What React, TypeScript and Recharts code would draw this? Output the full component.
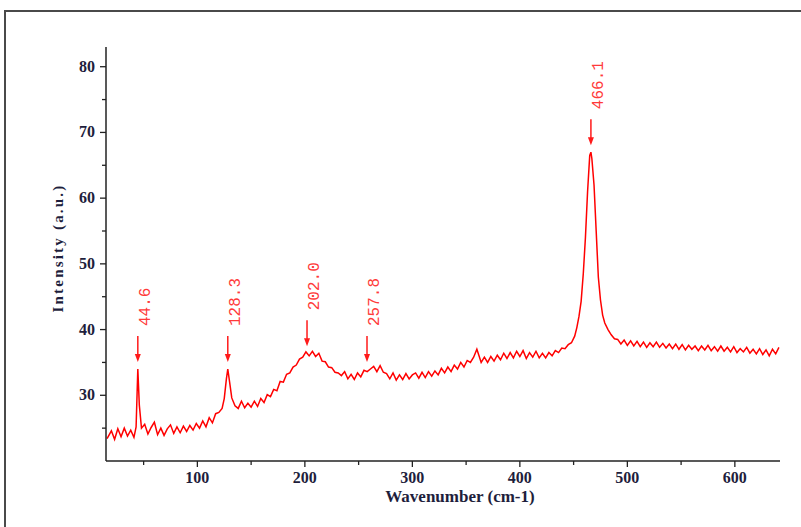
import { LineChart, Line, XAxis, YAxis, ReferenceDot } from "recharts";

const wavenumbers = [
  16, 20, 23, 26, 29, 32, 35, 38, 41, 43, 44.6, 46, 48, 51, 54, 57, 60, 63, 66, 69,
  72, 75, 78, 81, 84, 87, 90, 93, 96, 99, 102, 105, 108, 111, 114, 117, 120, 123, 125, 127,
  128.3, 130, 132, 135, 138, 141, 144, 147, 150, 153, 156, 159, 162, 165, 168, 171, 174, 177, 180, 183,
  186, 189, 192, 195, 198, 201, 204, 207, 210, 213, 216, 219, 222, 225, 228, 231, 234, 237, 240, 243,
  246, 249, 252, 255, 258, 261, 264, 267, 270, 273, 276, 279, 282, 285, 288, 291, 294, 297, 300, 303,
  306, 309, 312, 315, 318, 321, 324, 327, 330, 333, 336, 339, 342, 345, 348, 351, 354, 357, 360, 362,
  364, 367, 370, 373, 376, 379, 382, 385, 388, 391, 394, 397, 400, 403, 406, 409, 412, 415, 418, 421,
  424, 427, 430, 433, 436, 439, 442, 445, 448, 451, 453, 455, 457, 459, 461, 463, 465, 466.1, 467, 469,
  471, 473, 475, 477, 479, 482, 485, 488, 491, 494, 497, 500, 503, 506, 509, 512, 515, 518, 521, 524,
  527, 530, 533, 536, 539, 542, 545, 548, 551, 554, 557, 560, 563, 566, 569, 572, 575, 578, 581, 584,
  587, 590, 593, 596, 599, 602, 605, 608, 611, 614, 617, 620, 623, 626, 629, 632, 635, 638, 641,
];

const intensities = [
  23.4, 24.6, 23.3, 24.9, 23.7, 25.0, 23.8, 24.7, 23.6, 25.2, 34.0, 28.5, 25.0, 25.6, 24.1, 25.1, 25.9, 24.0, 25.0, 23.9,
  24.9, 25.5, 24.2, 25.2, 24.3, 25.3, 24.5, 25.4, 24.7, 25.7, 25.0, 26.1, 25.2, 26.6, 25.8, 27.2, 27.4, 28.0, 29.5, 32.5,
  34.0, 32.0, 29.6, 28.4, 28.0, 29.1, 28.1, 28.8, 28.2, 29.1, 28.3, 29.5, 28.9, 30.1, 29.8, 30.9, 30.7, 32.1, 32.0, 33.2,
  33.4, 34.3, 34.6, 35.5, 35.8, 36.6, 36.0, 36.7, 35.9, 36.4, 35.2, 35.1, 34.3, 34.2, 33.5, 33.4, 33.0, 33.6, 32.5, 33.2,
  32.4, 33.4, 32.8, 33.8, 33.6, 34.0, 34.4, 33.6, 34.5, 33.5, 33.3, 32.5, 33.4, 32.3, 33.1, 32.4, 33.3, 32.5, 33.1, 33.4,
  32.6, 33.5, 32.7, 33.6, 32.9, 33.7, 33.1, 34.1, 33.4, 34.3, 33.6, 34.6, 34.0, 35.0, 34.3, 35.3, 35.0, 35.8, 37.0, 36.0,
  35.0, 35.8, 35.0, 35.9, 35.2, 36.1, 35.4, 36.4, 35.6, 36.5, 35.7, 36.7, 35.9, 36.8, 35.6, 36.5, 35.8, 36.7, 35.7, 36.4,
  35.7, 36.5, 36.0, 36.8, 36.5, 37.2, 37.1, 37.7, 38.0, 39.0, 40.3, 42.0, 44.3, 48.5, 54.0, 61.0, 66.5, 67.0, 66.0, 62.0,
  55.0, 48.0, 44.5, 42.2, 41.0, 40.0, 39.2, 38.6, 38.5, 37.8, 38.4, 37.6, 38.3, 37.5, 38.2, 37.4, 38.1, 37.3, 38.0, 37.4,
  38.1, 37.3, 37.9, 37.2, 37.8, 37.1, 37.8, 37.0, 37.7, 36.9, 37.6, 37.0, 37.5, 36.8, 37.5, 36.9, 37.6, 36.8, 37.4, 36.7,
  37.5, 36.7, 37.3, 36.6, 37.4, 36.5, 37.1, 36.6, 37.3, 36.4, 37.0, 36.3, 37.1, 36.2, 36.9, 36.0, 37.0, 36.3, 37.3,
];

const peakPositions = [44.6, 128.3, 202.0, 257.8, 466.1];
const peakHeights = [34.0, 34.0, 36.4, 34.0, 67.0];
const peakLabels = ["44.6", "128.3", "202.0", "257.8", "466.1"];

const xTicks = [50, 100, 150, 200, 250, 300, 350, 400, 450, 500, 550, 600];
const yTicks = [25, 30, 35, 40, 45, 50, 55, 60, 65, 70, 75, 80];

const data = wavenumbers.map((x, i) => ({ x, y: intensities[i] }));

const axisColor = "#222";
const tickFont = { fontFamily: "'Liberation Serif', serif", fontWeight: 700, fontSize: 16, fill: "#1e1e3c" };

const XTick = ({ x, y, payload }: any) => {
  const major = payload.value % 100 === 0;
  return (
    <g>
      <line x1={x} x2={x} y1={y} y2={y + (major ? 6 : 4)} stroke={axisColor} strokeWidth={1.3} />
      {major && (
        <text x={x} y={y + 22} textAnchor="middle" {...tickFont}>
          {payload.value}
        </text>
      )}
    </g>
  );
};

const YTick = ({ x, y, payload }: any) => {
  const major = payload.value % 10 === 0;
  return (
    <g>
      <line x1={x - (major ? 6 : 4)} x2={x} y1={y} y2={y} stroke={axisColor} strokeWidth={1.3} />
      {major && (
        <text x={x - 11} y={y + 5} textAnchor="end" {...tickFont}>
          {payload.value}
        </text>
      )}
    </g>
  );
};

const PeakMark = ({ cx, cy, label }: any) => {
  const tip = cy - 7;
  const top = tip - 26;
  return (
    <g>
      <line x1={cx} x2={cx} y1={top} y2={tip - 3} stroke="#ff1a1a" strokeWidth={1.5} />
      <path d={`M${cx - 3},${tip - 8} L${cx},${tip} L${cx + 3},${tip - 8} Z`} fill="#ff1a1a" />
      <text
        x={cx + 12}
        y={top - 10}
        transform={`rotate(-90 ${cx + 12} ${top - 10})`}
        fontFamily="'Liberation Mono', monospace"
        fontSize={16}
        fill="#ff3a3a"
      >
        {label}
      </text>
    </g>
  );
};

export default function App() {
  return (
    <div style={{ position: "absolute", left: 0, top: 0, width: 801, height: 527, overflow: "hidden", background: "#fff" }}>
      <div
        style={{
          position: "absolute",
          left: 4,
          top: 10,
          width: 900,
          height: 600,
          borderTop: "2px solid #4a4a4a",
          borderLeft: "2px solid #4a4a4a",
        }}
      />
      <div style={{ position: "absolute", left: 0, top: 0 }}>
        <LineChart width={801} height={527} data={data} margin={{ top: 47, right: 21, bottom: 36, left: 0 }}>
          <XAxis
            dataKey="x"
            type="number"
            domain={[15, 642]}
            allowDataOverflow
            ticks={xTicks}
            interval={0}
            height={30}
            tickSize={0}
            tickMargin={0}
            tickLine={false}
            tick={<XTick />}
            axisLine={{ stroke: axisColor, strokeWidth: 1.5 }}
            label={{
              content: () => (
                <text x={460} y={502} textAnchor="middle" {...tickFont} fontSize={17}>
                  Wavenumber (cm-1)
                </text>
              ),
            }}
          />
          <YAxis
            type="number"
            domain={[20, 83]}
            allowDataOverflow
            ticks={yTicks}
            interval={0}
            width={106}
            tickSize={0}
            tickMargin={0}
            tickLine={false}
            tick={<YTick />}
            axisLine={{ stroke: axisColor, strokeWidth: 1.5 }}
            label={{
              content: () => (
                <text
                  x={63}
                  y={248}
                  textAnchor="middle"
                  transform="rotate(-90 63 248)"
                  {...tickFont}
                  fontSize={15}
                  letterSpacing={2.2}
                >
                  Intensity (a.u.)
                </text>
              ),
            }}
          />
          <Line
            type="linear"
            dataKey="y"
            stroke="#ff0000"
            strokeWidth={1.5}
            dot={false}
            isAnimationActive={false}
          />
          {peakPositions.map((p, i) => (
            <ReferenceDot
              key={p}
              x={p}
              y={peakHeights[i]}
              r={0}
              ifOverflow="visible"
              shape={(props: any) => <PeakMark {...props} label={peakLabels[i]} />}
            />
          ))}
        </LineChart>
      </div>
    </div>
  );
}
